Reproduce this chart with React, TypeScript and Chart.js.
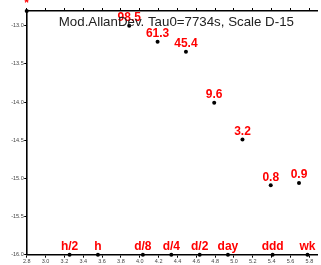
import React, { useEffect, useRef } from "react";
import { Chart, registerables } from "chart.js";

Chart.register(...registerables);

const titleText = "Mod.AllanDev. Tau0=7734s, Scale D-15";

// log10(tau) and log10(mod. Allan deviation)
const tauLog = [3.888, 4.189, 4.49, 4.79, 5.09, 5.39, 5.69];
const devLog = [-13.0, -13.21, -13.34, -14.01, -14.49, -15.09, -15.06];
const pointLabels = ["98.5", "61.3", "45.4", "9.6", "3.2", "0.8", "0.9"];

// time markers along the bottom axis
const markerNames = ["h/2", "h", "d/8", "d/4", "d/2", "day", "ddd", "wk"];
const markerLog = [3.255, 3.556, 4.033, 4.335, 4.636, 4.936, 5.41, 5.78];

// corner point
const cornerX = [2.8];
const cornerY = [-12.807];
const cornerLabels = ["*"];

const xTicks = [2.8, 3.0, 3.2, 3.4, 3.6, 3.8, 4.0, 4.2, 4.4, 4.6, 4.8, 5.0, 5.2, 5.4, 5.6, 5.8];
const yTicks = [-16.0, -15.5, -15.0, -14.5, -14.0, -13.5, -13.0];

const X_MIN = 2.8;
const X_MAX = 5.881;
const Y_MIN = -16.0;
const Y_MAX = -12.807;

export default function App() {
  const ref = useRef<HTMLCanvasElement | null>(null);

  useEffect(() => {
    document.body.style.margin = "0";
    if (!ref.current) return;

    const mainData = tauLog.map((x, i) => ({ x, y: devLog[i] }));
    const markerData = markerLog.map((x) => ({ x, y: Y_MIN }));
    const cornerData = cornerX.map((x, i) => ({ x, y: cornerY[i] }));

    const labelSets: string[][] = [pointLabels, markerNames, cornerLabels];

    const labelPlugin = {
      id: "pointLabels",
      afterDatasetsDraw(chart: any) {
        const ctx = chart.ctx;
        ctx.save();
        ctx.font = "bold 12px 'Liberation Sans', Arial, sans-serif";
        ctx.fillStyle = "#ff0000";
        ctx.textAlign = "center";
        ctx.textBaseline = "alphabetic";
        chart.data.datasets.forEach((ds: any, di: number) => {
          const meta = chart.getDatasetMeta(di);
          meta.data.forEach((el: any, i: number) => {
            const t = labelSets[di][i];
            if (t) ctx.fillText(t, el.x, el.y - 4.5);
          });
        });
        ctx.restore();
      },
      afterDraw(chart: any) {
        const ctx = chart.ctx;
        const a = chart.chartArea;
        ctx.save();
        ctx.font = "13.3px 'Liberation Sans', Arial, sans-serif";
        ctx.fillStyle = "#222222";
        ctx.textAlign = "center";
        ctx.textBaseline = "alphabetic";
        ctx.fillText(titleText, (a.left + a.right) / 2 + 4.5, a.top + 15);
        ctx.restore();
      },
    };

    const tickFont = { family: "'Liberation Sans', Arial, sans-serif", size: 5.5 };

    const chart = new Chart(ref.current, {
      type: "scatter",
      data: {
        datasets: [
          { data: mainData, pointRadius: 2, pointBackgroundColor: "#000", pointBorderWidth: 0, clip: false } as any,
          { data: markerData, pointRadius: 2, pointBackgroundColor: "#000", pointBorderWidth: 0, clip: false } as any,
          { data: cornerData, pointRadius: 2, pointBackgroundColor: "#000", pointBorderWidth: 0, clip: false } as any,
        ],
      },
      options: {
        animation: false,
        responsive: true,
        maintainAspectRatio: false,
        layout: { padding: 0 },
        plugins: { legend: { display: false }, tooltip: { enabled: false }, title: { display: false } },
        scales: {
          x: {
            type: "linear",
            position: "bottom",
            min: X_MIN,
            max: X_MAX,
            afterBuildTicks: (s: any) => {
              s.ticks = xTicks.map((v) => ({ value: v }));
            },
            afterFit: (s: any) => {
              s.height = 10.3;
            },
            border: { display: true, color: "#000", width: 1.6 },
            grid: { drawOnChartArea: false, drawTicks: true, tickLength: 3, color: "#000", lineWidth: 1 },
            ticks: {
              font: tickFont,
              color: "#444",
              padding: 0,
              maxRotation: 0,
              autoSkip: false,
              callback: (v: any) => Number(v).toFixed(1),
            },
          },
          x2: {
            type: "linear",
            position: "top",
            min: X_MIN,
            max: X_MAX,
            afterBuildTicks: (s: any) => {
              s.ticks = xTicks.map((v) => ({ value: v }));
            },
            afterFit: (s: any) => {
              s.height = 11;
            },
            border: { display: true, color: "#000", width: 1.6 },
            grid: { drawOnChartArea: false, drawTicks: true, tickLength: 3, color: "#000", lineWidth: 1 },
            ticks: { display: false },
          },
          y: {
            type: "linear",
            position: "left",
            min: Y_MIN,
            max: Y_MAX,
            afterBuildTicks: (s: any) => {
              s.ticks = yTicks.map((v) => ({ value: v }));
            },
            afterFit: (s: any) => {
              s.width = 26.7;
            },
            border: { display: true, color: "#000", width: 1.6 },
            grid: { drawOnChartArea: false, drawTicks: true, tickLength: 2.5, color: "#000", lineWidth: 1 },
            ticks: {
              font: tickFont,
              color: "#444",
              padding: 0.5,
              autoSkip: false,
              callback: (v: any) => Number(v).toFixed(1),
            },
          },
        },
      },
      plugins: [labelPlugin],
    });

    return () => chart.destroy();
  }, []);

  return (
    <div style={{ position: "absolute", left: 0, top: 0, width: 321, height: 265 }}>
      <canvas ref={ref} />
    </div>
  );
}
